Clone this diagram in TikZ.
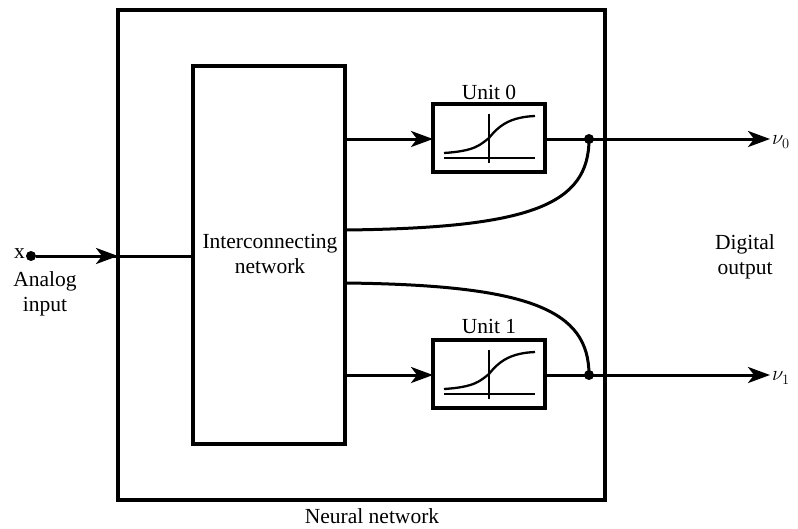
\documentclass[tikz,border=0pt]{standalone}
\usepackage{fontspec}
\setmainfont{Liberation Serif}
\usetikzlibrary{arrows.meta}
\begin{document}
\begin{tikzpicture}[x=1pt,y=-1pt,
  every node/.style={font=\fontsize{21.5}{25}\selectfont},
  box/.style={draw,line width=3.2pt},
  wire/.style={line width=3pt},
  arr/.style={wire,-{Stealth[length=22pt,width=16pt,inset=6pt]}},
  jdot/.style={circle,fill,inner sep=0pt,minimum size=10pt},
  lbl/.style={inner sep=0pt,align=center}]
\useasboundingbox (0,0) rectangle (798,528);
% outer box
\draw[box] (118,10) rectangle (605,500);
\node[lbl] (nn) at (372,516) {Neural network};
% interconnecting network
\draw[box] (193,66) rectangle (345,444);
\node[lbl] (ic) at (270,254) {Interconnecting\\network};
\coordinate (icin) at (193,256);
\coordinate (ico0) at (345,139);
\coordinate (ico1) at (345,375);
\coordinate (icc0) at (345,230);
\coordinate (icc1) at (345,283);
% units
\foreach \i/\y in {0/0,1/236}{
  \begin{scope}[yshift=-\y pt]
  \draw[box] (433,104) rectangle (545,172);
  \draw[line width=1.5pt] (444,158) -- (535,158);
  \draw[line width=1.5pt] (489,114) -- (489,163);
  \draw[line width=2.3pt] (444,153) .. controls (475,151) and (480,145) .. (489,138)
     .. controls (500,124) and (512,117) .. (535,116);
  \end{scope}
}
\coordinate (u0in) at (433,139);
\coordinate (u0out) at (545,139);
\coordinate (u1in) at (433,375);
\coordinate (u1out) at (545,375);
\node[lbl] (u0l) at (489,92) {Unit 0};
\node[lbl] (u1l) at (489,326) {Unit 1};
% input
\node[jdot,minimum size=10pt] (xin) at (31,256) {};
\node[lbl,anchor=east] (xl) at (25,254) {x};
\node[lbl] (al) at (45,294) {Analog\\input};
\draw[arr] (xin) -- (118,256);
\draw[wire] (112,256) -- (icin);
% internal arrows
\draw[arr] (ico0) -- (u0in);
\draw[arr] (ico1) -- (u1in);
% outputs
\node[jdot] (j0) at (589,139) {};
\node[jdot] (j1) at (589,375) {};
\node[lbl,anchor=west] (v0) at (772,142) {$\nu_0$};
\node[lbl,anchor=west] (v1) at (772,378) {$\nu_1$};
\coordinate (t0) at (770,139);
\coordinate (t1) at (770,375);
\draw[wire] (u0out) -- (j0.center);
\draw[arr] (j0.center) -- (t0);
\draw[wire] (u1out) -- (j1.center);
\draw[arr] (j1.center) -- (t1);
% feedback curves
\draw[wire] (icc0) .. controls (530,228) and (589,205) .. (j0.center);
\draw[wire] (icc1) .. controls (530,285) and (589,310) .. (j1.center);
\node[lbl] (dl) at (745,257) {Digital\\output};
\end{tikzpicture}
\end{document}
